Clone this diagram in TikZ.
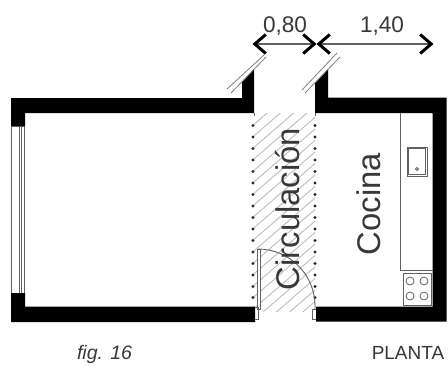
\documentclass[tikz,border=0pt]{standalone}
\usepackage{fontspec}
\setmainfont{Liberation Sans}
\usetikzlibrary{arrows.meta,patterns}
\definecolor{ink}{gray}{0.22}
\definecolor{thin}{gray}{0.38}
\definecolor{hatchc}{gray}{0.74}
\tikzset{
  wall/.style={fill=black,draw=none},
  fine/.style={draw=thin,line width=0.8pt},
  breakline/.style={draw=gray,line width=0.8pt},
  hatch/.style={draw=hatchc,line width=0.9pt},
  dim/.style={draw=thin,line width=1.4pt,{Straight Barb[length=11pt,width=19pt,line width=3pt,color=black]}-{Straight Barb[length=11pt,width=19pt,line width=3pt,color=black]}},
  lbl/.style={text=ink,inner sep=0pt},
  pt/.style={circle,fill=black!85,inner sep=0pt,minimum size=3.4pt}
}
\begin{document}
\begin{tikzpicture}[x=1pt,y=-1pt]
\useasboundingbox[fill=white] (0,0) rectangle (448,365);
% hatch
\begin{scope}
\clip (254,113) rectangle (315,311);
\foreach \k in {0,...,24}{
  \draw[hatch] (240,{125+11.5*\k}) -- (330,{125+11.5*\k-78});
}
\end{scope}
% walls
\fill[wall] (11,98) -- (242,98) -- (242,82) -- (254,69) -- (254,113) -- (25,113) -- (25,126.5) -- (11,126.5) -- cycle;
\fill[wall] (11,293) -- (25,293) -- (25,306.5) -- (255,306.5) -- (255,322) -- (11,322) -- cycle;
\fill[wall] (315,83) -- (328,69) -- (328,97.5) -- (446.5,97.5) -- (446.5,321.5) -- (316,321.5) -- (316,306.5) -- (432.7,306.5) -- (432.7,113) -- (315,113) -- cycle;
% window
\foreach \x in {11.7,19.3,21.7,24.6}{\draw[fine] (\x,126.5) -- (\x,293);}
% counter
\draw[fine] (400,113) -- (400,270) -- (433,270);
% sink
\draw[fine,line width=1pt] (407,147) rectangle (427,176);
\draw[fine,line width=0.5pt] (408.5,148.5) rectangle (425.5,174.5);
\draw[fine] (417,169) circle (1.5);
% hob
\draw[fine] (403,273) rectangle (431,305);
\foreach \x/\y in {410/281,424/281,410/296,424/296}{\draw[fine] (\x,\y) circle (4);}
% columns of dots
\foreach \y in {125.5,137,148.5,160,171.5,183,194.5,206,217.5,229,240.5,252,263.5,275,286.5,297.5}{
  \node[pt] at (253,\y) {};
  \node[pt] at (315,\y) {};
}
\draw[fine] (254,113) -- (254,116);
\draw[fine] (315,113) -- (315,116);
% door
\draw[fine,fill=white] (257.7,249) rectangle (260.7,309);
\draw[fine,line width=0.9pt] (258,249) arc[start angle=-90,end angle=0,radius=57] -- (315,309);
\draw[fine] (255,307) -- (258,307) -- (258,319.5) -- (255,319.5);
\draw[fine] (316,309) -- (312.5,309) -- (312.5,319) -- (316,319);
% break lines
\draw[breakline] (227,89) -- (264,55);
\draw[breakline] (231,93) -- (266,57);
\draw[breakline] (302,90) -- (337,53);
\draw[breakline] (305,93) -- (340,57);
% dimensions
\coordinate (d0) at (252.5,44);
\coordinate (d1) at (316.5,44);
\coordinate (d2) at (433.5,44);
\draw[dim] (d0) -- (d1);
\draw[dim] (d1) -- (d2);
\node[lbl,font=\fontsize{22.6}{24}\selectfont,anchor=base] (t1) at (285,32) {0,80};
\node[lbl,font=\fontsize{22.6}{24}\selectfont,anchor=base] (t2) at (382,32) {1,40};
\node[lbl,font=\fontsize{32.8}{34}\selectfont,rotate=90,anchor=base] (t3) at (299,209) {Circulación};
\node[lbl,font=\fontsize{32.8}{34}\selectfont,rotate=90,anchor=base] (t4) at (380,204) {Cocina};
\node[lbl,font=\fontsize{19.5}{22}\selectfont\itshape,anchor=base] (t5) at (104.5,359) {fig. 16};
\node[lbl,font=\fontsize{19}{22}\selectfont,anchor=base] (t6) at (408,359) {PLANTA};
\end{tikzpicture}
\end{document}
